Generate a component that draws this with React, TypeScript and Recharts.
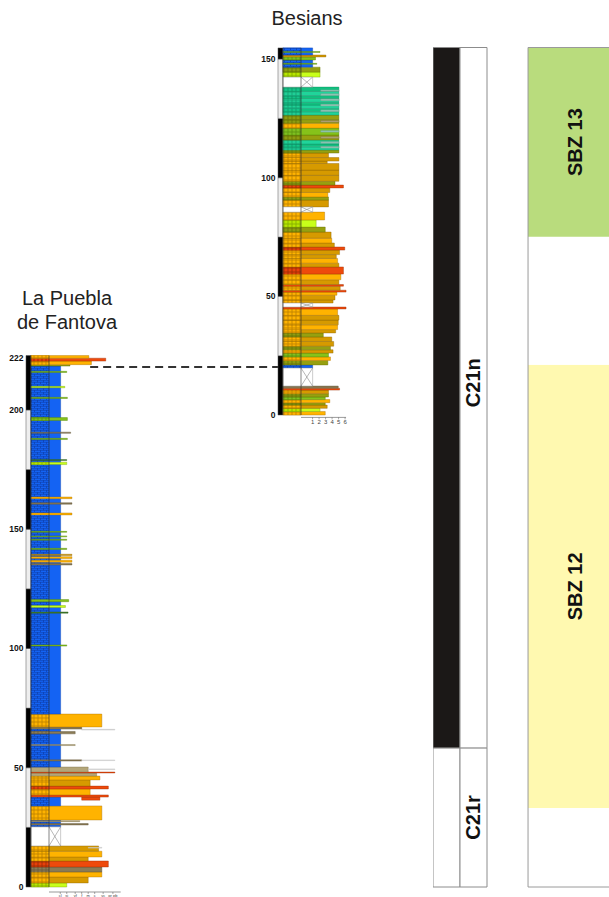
import React from 'react';
import { ComposedChart, XAxis, YAxis, ReferenceArea, ReferenceLine } from 'recharts';

// [base m, top m, grain-size width, lithology, optional start]
type Bed = [number, number, number, string, number?];

// La Puebla de Fantova
const pueblaBeds: Bed[] = [
  [0, 1.7, 5.5, 'L'],
  [1.7, 4.2, 8.8, 'S'],
  [4.2, 6.3, 10.9, 'C'],
  [6.3, 8.4, 10.9, 'B'],
  [8.4, 10.9, 11.9, 'R'],
  [10.9, 12.6, 8.8, 'S'],
  [12.6, 15, 10.9, 'C'],
  [15, 17.2, 10.4, 'S'],
  [16.3, 16.6, 10.9, 'W', 8.8],
  [25.2, 28.1, 4.56, 'M'],
  [26, 26.6, 8.8, 'B'],
  [27.4, 27.8, 7.5, 'K'],
  [28.1, 34, 10.9, 'C'],
  [34, 37.7, 4.56, 'M'],
  [36.4, 37.7, 10.6, 'R', 7.8],
  [37.7, 38.6, 11.9, 'R'],
  [38.6, 41.1, 9.1, 'C'],
  [41.1, 42.3, 11.9, 'R'],
  [42.3, 44.9, 9.1, 'S'],
  [44.9, 46.5, 10.6, 'C'],
  [46.5, 47.8, 10.1, 'K'],
  [47.8, 48.2, 12.9, 'R'],
  [48.2, 50.3, 8.8, 'K'],
  [49.2, 49.5, 12.9, 'W', 8.8],
  [50.3, 67.1, 4.56, 'M'],
  [52.8, 53.3, 7.8, 'B'],
  [53.0, 53.25, 12.9, 'W', 7.8],
  [59.3, 59.7, 6.8, 'K'],
  [64.2, 65.2, 6.8, 'B'],
  [65.8, 66.1, 12.9, 'W', 7.8],
  [66.2, 67.1, 7.8, 'B'],
  [67.1, 72.5, 10.9, 'C'],
  [72.5, 218.4, 4.56, 'M'],
  [101, 101.5, 5.5, 'G'],
  [114.8, 115.3, 5.7, 'N'],
  [117.2, 118, 5.3, 'L'],
  [119.6, 120.5, 5.8, 'G'],
  [135, 135.6, 6.3, 'B'],
  [136.2, 137, 6.3, 'C'],
  [137.7, 138.5, 6.3, 'C'],
  [139, 139.5, 6.3, 'S'],
  [141.5, 142, 5.5, 'G'],
  [145.4, 145.8, 5.5, 'G'],
  [146.8, 147.2, 5.5, 'G'],
  [148.7, 149.1, 5.5, 'G'],
  [156, 156.8, 6.3, 'C'],
  [160.5, 161.1, 6.3, 'B'],
  [162.8, 163.5, 6.3, 'C'],
  [177.1, 178.1, 5.5, 'L'],
  [178.8, 179.2, 5.5, 'N'],
  [187.6, 188.1, 5.6, 'G'],
  [190.2, 190.7, 6.1, 'B'],
  [195.6, 196.8, 5.6, 'G'],
  [204.8, 205.3, 5.6, 'G'],
  [209.3, 209.9, 5.2, 'L'],
  [215.7, 216.2, 5.5, 'G'],
  [218.4, 219, 6, 'O'],
  [219, 220.5, 9.3, 'C'],
  [220.5, 221.7, 11.5, 'R'],
  [221.7, 222.8, 8.9, 'C'],
];
const pueblaCovered: [number, number][] = [[17.2, 25.2]];
const pueblaTop = 222.8;
const pueblaTicks = [0, 50, 100, 150, 200, 222];
const pueblaGrainPos = [4.5, 5.5, 6.8, 7.8, 8.8, 9.8, 11.1, 12.6];
const pueblaGrainLabels = ['cl', 'si', 'vf', 'f', 'm', 'c', 'vc', 'gr pb'];

// Besians
const besiansBeds: Bed[] = [
  [0, 1.5, 6.5, 'C'],
  [1.5, 2.8, 5.7, 'L'],
  [2.8, 4.2, 6.8, 'S'],
  [4.2, 5.2, 6.5, 'O'],
  [5.2, 6.5, 7.2, 'C'],
  [6.5, 7.6, 6.5, 'G'],
  [7.6, 9, 7.0, 'O'],
  [9, 10.5, 7.0, 'S'],
  [10.5, 11.3, 8.7, 'R'],
  [11.3, 12.2, 8.5, 'B'],
  [19.8, 21.1, 4.56, 'M'],
  [21.1, 23, 6.9, 'O'],
  [23, 24.5, 7.3, 'C'],
  [24.5, 26.1, 7.0, 'G'],
  [26.1, 27.5, 7.7, 'S'],
  [27.5, 29, 7.3, 'O'],
  [29, 31, 7.8, 'S'],
  [31, 32.9, 7.5, 'S'],
  [32.9, 34.6, 6.2, 'O'],
  [34.6, 36, 8.1, 'S'],
  [36, 38, 8.4, 'C'],
  [38, 40, 8.5, 'S'],
  [40, 42, 8.6, 'S'],
  [42, 44.7, 8.4, 'C'],
  [44.7, 45.5, 9.7, 'R'],
  [47.2, 48.5, 7.7, 'S'],
  [48.5, 50.5, 8.0, 'S'],
  [50.5, 51.8, 8.3, 'C'],
  [51.8, 52.6, 9.7, 'R'],
  [52.6, 54.3, 8.8, 'S'],
  [54.3, 55, 9.3, 'R'],
  [55, 57, 8.6, 'S'],
  [57, 59.4, 8.9, 'C'],
  [59.4, 62.4, 9.3, 'R'],
  [62.4, 64, 8.6, 'S'],
  [64, 66, 8.4, 'C'],
  [66, 67.6, 8.2, 'S'],
  [67.6, 69.5, 8.7, 'S'],
  [69.5, 70.8, 9.5, 'R'],
  [70.8, 72.5, 7.9, 'S'],
  [72.5, 74.5, 7.5, 'C'],
  [74.5, 77.1, 7.4, 'S'],
  [77.1, 79.2, 6.5, 'O'],
  [79.2, 82.2, 5.1, 'L'],
  [82.2, 85.5, 6.4, 'C'],
  [87.7, 90.6, 7.0, 'S'],
  [90.6, 91.9, 7.0, 'O'],
  [91.9, 93.8, 6.9, 'C'],
  [93.8, 95.7, 7.2, 'S'],
  [95.7, 96.9, 9.3, 'R'],
  [96.9, 98.5, 8.0, 'O'],
  [98.5, 101, 8.6, 'S'],
  [101, 103.2, 8.6, 'S'],
  [103.2, 106, 8.6, 'S'],
  [106, 107, 6.8, 'S'],
  [107, 108.5, 8.6, 'S'],
  [108.5, 110.4, 7.0, 'S'],
  [110.4, 111.7, 8.6, 'O'],
  [111.7, 113, 8.6, 'T'],
  [113, 114.2, 8.6, 'U'],
  [114.2, 115.9, 8.6, 'T'],
  [112.5, 113.2, 8.6, 'Y', 5.8],
  [114.5, 115.2, 8.6, 'Y', 5.8],
  [115.9, 118, 8.6, 'O'],
  [116.6, 117.3, 8.6, 'K', 5.8],
  [118, 120.9, 8.6, 'G'],
  [119.2, 119.9, 8.6, 'Y', 5.8],
  [120.9, 123, 8.6, 'C'],
  [123, 124.5, 8.6, 'O'],
  [123.4, 124.1, 8.6, 'K', 5.8],
  [124.5, 126.4, 8.6, 'O'],
  [126.4, 127.8, 8.6, 'T'],
  [127.8, 129.2, 8.6, 'U'],
  [129.2, 130.6, 8.6, 'T'],
  [130.6, 131.8, 8.6, 'U'],
  [131.8, 133.4, 8.6, 'T'],
  [133.4, 134.6, 8.6, 'U'],
  [134.6, 136.4, 8.6, 'T'],
  [136.4, 138.2, 8.6, 'U'],
  [127.8, 128.6, 8.6, 'Y', 5.8],
  [130.2, 131, 8.6, 'Y', 5.8],
  [132.4, 133.2, 8.6, 'Y', 5.8],
  [134.6, 135.4, 8.6, 'Y', 5.8],
  [136.4, 137, 8.6, 'Y', 5.8],
  [142.4, 144.5, 5.7, 'L'],
  [144.5, 146.6, 5.7, 'O'],
  [146.6, 149.6, 4.56, 'M'],
  [147.8, 148.2, 5.2, 'G'],
  [149.6, 150.9, 5.0, 'G'],
  [150.9, 151.7, 6.6, 'S'],
  [151.7, 154.7, 4.56, 'M'],
  [152.8, 153.2, 5.7, 'G'],
];
const besiansCovered: [number, number][] = [[12.2, 19.8], [45.5, 47.2], [85.5, 87.7], [138.2, 142.4]];
const besiansTop = 154.7;
const besiansTicks = [0, 50, 100, 150];
const besiansGrain = [1, 2, 3, 4, 5, 6];

// correlation level (La Puebla metres)
const tieLevel = 218;

// magnetostratigraphy and biozones, La Puebla metres
const chronNames = ['C21r', 'C21n'];
const chronBase = [0, 58.3];
const zoneNames = ['', 'SBZ 12', '', 'SBZ 13'];
const zoneBase = [0, 33.1, 218.9, 272.5];
const compositeTop = 351.8;

const LITH: Record<string, { fill: string; edge: string; bg?: string; ink?: string }> = {
  M: { fill: '#1463f3', edge: '#0b3fa8' },
  C: { fill: '#ffb300', edge: '#a87000', bg: '#ffb300', ink: '#8a5a00' },
  S: { fill: '#d69a00', edge: '#8a6200', bg: '#ffb300', ink: '#8a5a00' },
  R: { fill: '#ee4a0c', edge: '#9a2a00', bg: '#e8400a', ink: '#5a1a00' },
  O: { fill: '#96a010', edge: '#5f6a00', bg: '#8c9c10', ink: '#4a5500' },
  L: { fill: '#c8ff1a', edge: '#7aa000', bg: '#b8e600', ink: '#5a8000' },
  G: { fill: '#86c21a', edge: '#4f8000', bg: '#7fbf20', ink: '#3f7000' },
  N: { fill: '#3f7a2a', edge: '#2a5a1a' },
  T: { fill: '#20d49a', edge: '#10906a', bg: '#1fcf96', ink: '#0a7a55' },
  U: { fill: '#12c080', edge: '#0a8a5a', bg: '#14c488', ink: '#0a7050' },
  Y: { fill: '#93c6b6', edge: '#6c9c8c' },
  K: { fill: '#b3a679', edge: '#7c6f48' },
  B: { fill: '#8a7b55', edge: '#5a4e32', bg: '#8a7b55', ink: '#4a4030' },
  W: { fill: '#d9d9d9', edge: '#bdbdbd' },
};

const LEFT_W = 2.77;
const MARL_W = 4.56;
const SCALE_STEP = 25;
const FONT = "'Liberation Sans', Arial, Helvetica, sans-serif";

function patternDefs(id: string) {
  return (
    <defs>
      {Object.entries(LITH)
        .filter(([, s]) => s.bg)
        .map(([k, s]) => (
          <pattern key={k} id={`${id}-${k}`} width={4} height={4} patternUnits="userSpaceOnUse">
            <rect width={4} height={4} fill={s.bg} />
            <circle cx={2} cy={2} r={1.2} fill="none" stroke={s.ink} strokeWidth={0.5} />
          </pattern>
        ))}
      <pattern id={`${id}-M`} width={6} height={4} patternUnits="userSpaceOnUse">
        <rect width={6} height={4} fill={LITH.M.fill} />
        <path d="M0 0.25H6M0 2.25H6M1.5 0.25V2.25M4.5 2.25V4" stroke="#0a2f8f" strokeWidth={0.5} fill="none" />
      </pattern>
    </defs>
  );
}

type ColumnProps = {
  id: string;
  beds: Bed[];
  covered: [number, number][];
  top: number;
  yTicks: number[];
  grainPos: number[];
  grainLabel: (v: number, i: number) => string;
  grainFont: number;
  yDomain: [number, number];
  xDomain: [number, number];
  width: number;
  height: number;
  margin: { top: number; right: number; bottom: number; left: number };
  yAxisWidth: number;
  xAxisHeight: number;
  axisEnd: number;
  children?: React.ReactNode;
};

function Column(p: ColumnProps) {
  const scale: [number, number][] = [];
  for (let b = 0; b < p.top; b += SCALE_STEP) scale.push([b, Math.min(b + SCALE_STEP, p.top)]);

  const beds = p.beds.flatMap(([b, t, w, c, s], i) => {
    const st = LITH[c];
    const out = [
      <ReferenceArea key={`r${i}`} x1={s ?? 0} x2={w} y1={b} y2={t} fill={st.fill} fillOpacity={1}
        stroke={st.edge} strokeWidth={0.4} ifOverflow="visible" />,
    ];
    if (s === undefined && t - b >= 1 && (st.bg || c === 'M')) {
      out.push(
        <ReferenceArea key={`p${i}`} x1={0} x2={Math.min(LEFT_W, w)} y1={b} y2={t} fill={`url(#${p.id}-${c})`}
          fillOpacity={1} stroke={st.edge} strokeWidth={0.3} ifOverflow="visible" />,
      );
    }
    return out;
  });

  return (
    <ComposedChart width={p.width} height={p.height} margin={p.margin}>
      {patternDefs(p.id)}
      <XAxis type="number" dataKey="x" domain={p.xDomain} ticks={p.grainPos} interval={0}
        tickFormatter={p.grainLabel} height={p.xAxisHeight} axisLine={false}
        tickLine={{ stroke: '#555', strokeWidth: 0.5 }} tickSize={2} tickMargin={0}
        tick={{ fontSize: p.grainFont, fill: '#444', fontFamily: FONT }} allowDataOverflow />
      <YAxis type="number" domain={p.yDomain} ticks={p.yTicks} interval={0} width={p.yAxisWidth}
        axisLine={false} tickLine={false} tickSize={0} tickMargin={1}
        tick={{ fontSize: 8.5, fontWeight: 700, fill: '#111', fontFamily: FONT }} allowDataOverflow />
      {scale.map(([b, t], i) => (
        <ReferenceArea key={`s${i}`} x1={-0.77} x2={0} y1={b} y2={t} fill={i % 2 ? '#eeeeee' : '#000'}
          fillOpacity={1} stroke="#555" strokeWidth={0.5} ifOverflow="visible" />
      ))}
      {beds}
      {p.covered.map(([b, t], i) => (
        <ReferenceArea key={`c${i}`} x1={0} x2={MARL_W} y1={b} y2={t} fill="#fff" fillOpacity={1}
          stroke="#999" strokeWidth={0.5} ifOverflow="visible" />
      ))}
      {p.covered.flatMap(([b, t], i) => [
        <ReferenceLine key={`xa${i}`} segment={[{ x: LEFT_W, y: b }, { x: MARL_W, y: t }]} stroke="#888" strokeWidth={0.6} ifOverflow="visible" />,
        <ReferenceLine key={`xb${i}`} segment={[{ x: LEFT_W, y: t }, { x: MARL_W, y: b }]} stroke="#888" strokeWidth={0.6} ifOverflow="visible" />,
      ])}
      <ReferenceLine segment={[{ x: 0, y: 0 }, { x: 0, y: p.top }]} stroke="#333" strokeWidth={0.6} ifOverflow="visible" />
      <ReferenceLine segment={[{ x: LEFT_W, y: 0 }, { x: LEFT_W, y: p.top }]} stroke="#333" strokeWidth={0.6} ifOverflow="visible" />
      <ReferenceLine segment={[{ x: LEFT_W, y: p.yDomain[0] }, { x: p.axisEnd, y: p.yDomain[0] }]} stroke="#555" strokeWidth={0.6} ifOverflow="visible" />
      {p.children}
    </ComposedChart>
  );
}

const VLabel = (props: any) => {
  const { viewBox, text, shift = 0 } = props;
  if (!viewBox || !text) return null;
  const cx = viewBox.x + viewBox.width / 2;
  const cy = viewBox.y + viewBox.height / 2 + shift;
  return (
    <text x={cx} y={cy} transform={`rotate(-90 ${cx} ${cy})`} textAnchor="middle" dominantBaseline="central"
      fontSize={20} fontWeight={700} fill="#111" fontFamily={FONT}>
      {text}
    </text>
  );
};

const chronLabelShift = [0, -15];
const zoneColor: Record<string, string> = { 'SBZ 12': '#fff9b0', 'SBZ 13': '#b9dc7d', '': '#ffffff' };

function Chrons() {
  const chrons = chronBase.map((b, i) => [b, chronBase[i + 1] ?? compositeTop]);
  const zones = zoneBase.map((b, i) => [b, zoneBase[i + 1] ?? compositeTop]);
  return (
    <ComposedChart width={189} height={897} margin={{ top: 47.5, right: 0, bottom: 10, left: 0 }}>
      <XAxis type="number" dataKey="x" domain={[0, 7]} hide allowDataOverflow />
      <YAxis type="number" domain={[0, compositeTop]} hide allowDataOverflow />
      {chrons.flatMap(([b, t], i) => [
        <ReferenceArea key={`p${i}`} x1={0} x2={1} y1={b} y2={t}
          fill={chronNames[i].endsWith('n') ? '#1b1817' : '#fff'} fillOpacity={1} stroke="#8c8c8c" strokeWidth={1} />,
        <ReferenceArea key={`l${i}`} x1={1} x2={2} y1={b} y2={t} fill="#fff" fillOpacity={1}
          stroke="#8c8c8c" strokeWidth={1} label={<VLabel text={chronNames[i]} shift={chronLabelShift[i]} />} />,
      ])}
      {zones.map(([b, t], i) => (
        <ReferenceArea key={`z${i}`} x1={3.52} x2={7} y1={b} y2={t} fill={zoneColor[zoneNames[i]]}
          fillOpacity={1} label={<VLabel text={zoneNames[i]} />} />
      ))}
      <ReferenceArea x1={3.52} x2={7} y1={0} y2={compositeTop} fill="none" stroke="#9a9a9a" strokeWidth={1} />
    </ComposedChart>
  );
}

export default function App() {
  return (
    <div style={{ position: 'absolute', left: 0, top: 0, width: 609, height: 897, overflow: 'hidden', background: '#fff', fontFamily: FONT, color: '#222' }}>
      <div style={{ position: 'absolute', left: 247, top: 6, width: 120, textAlign: 'center', fontSize: 20, lineHeight: '24px' }}>
        Besians
      </div>
      <div style={{ position: 'absolute', left: 7, top: 286, width: 120, textAlign: 'center', fontSize: 20, lineHeight: '24px' }}>
        La Puebla<br />de Fantova
      </div>
      <div style={{ position: 'absolute', left: 0, top: 340 }}>
        <Column id="lp" beds={pueblaBeds} covered={pueblaCovered} top={pueblaTop} yTicks={pueblaTicks}
          grainPos={pueblaGrainPos} grainLabel={(_v, i) => pueblaGrainLabels[i]} grainFont={4}
          yDomain={[-2.1, 223]} xDomain={[-1, 14]} width={290} height={560}
          margin={{ top: 15.1, right: 168, bottom: 0, left: 0 }} yAxisWidth={24.5} xAxisHeight={8} axisEnd={13.8}>
          <ReferenceLine segment={[{ x: 9.1, y: tieLevel }, { x: 38.8, y: tieLevel }]} stroke="#333"
            strokeWidth={2} strokeDasharray="8 5" ifOverflow="visible" />
        </Column>
      </div>
      <div style={{ position: 'absolute', left: 250, top: 30 }}>
        <Column id="bs" beds={besiansBeds} covered={besiansCovered} top={besiansTop} yTicks={besiansTicks}
          grainPos={besiansGrain.map((g) => g + 3.55)} grainLabel={(_v, i) => String(besiansGrain[i])} grainFont={6}
          yDomain={[-1, 155]} xDomain={[-1, 10.5]} width={110} height={401.4}
          margin={{ top: 17.2, right: 8.75, bottom: 0, left: 0 }} yAxisWidth={26.5} xAxisHeight={14} axisEnd={9.7} />
      </div>
      <div style={{ position: 'absolute', left: 433, top: 0 }}>
        <Chrons />
      </div>
    </div>
  );
}
